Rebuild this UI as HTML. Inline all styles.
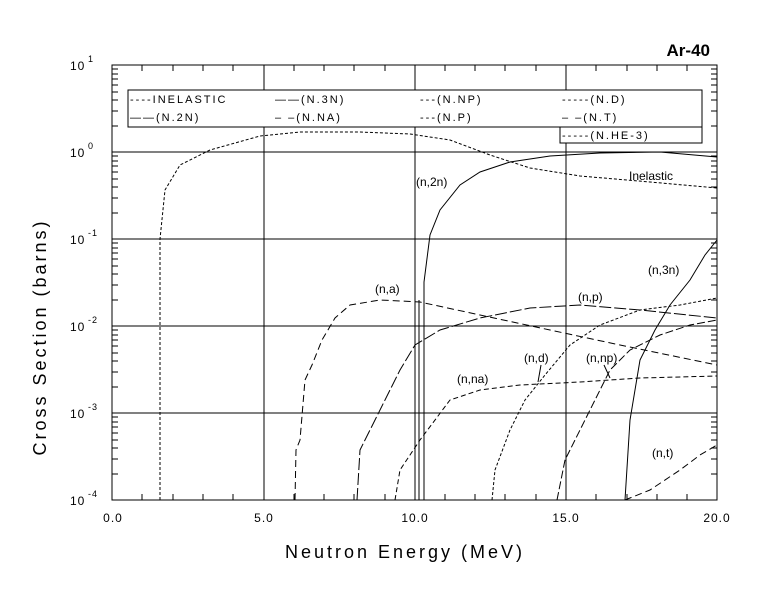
<!DOCTYPE html>
<html><head><style>
body{margin:0;background:#fff;}
svg{display:block;}
text{font-family:"Liberation Sans",sans-serif;fill:#000;}
</style></head><body>
<svg width="779" height="590" viewBox="0 0 779 590" xmlns="http://www.w3.org/2000/svg">
<rect width="779" height="590" fill="#fff"/>
<g stroke="#000" stroke-width="1" fill="none">
<rect x="112" y="65" width="605" height="435"/>
<line x1="264" y1="65" x2="264" y2="500"/>
<line x1="415" y1="65" x2="415" y2="500"/>
<line x1="566" y1="65" x2="566" y2="500"/>
<line x1="112" y1="152" x2="717" y2="152"/>
<line x1="112" y1="239" x2="717" y2="239"/>
<line x1="112" y1="326" x2="717" y2="326"/>
<line x1="112" y1="413" x2="717" y2="413"/>
</g>
<g stroke="#000" stroke-width="1">
<path d="M142,500v-6M173,500v-6M203,500v-6M233,500v-6M294,500v-6M324,500v-6M354,500v-6M385,500v-6M445,500v-6M475,500v-6M505,500v-6M536,500v-6M596,500v-6M627,500v-6M657,500v-6M687,500v-6
M142,65v6M173,65v6M203,65v6M233,65v6M294,65v6M324,65v6M354,65v6M385,65v6M445,65v6M475,65v6M505,65v6M536,65v6M596,65v6M627,65v6M657,65v6M687,65v6"/>
<path d="M112,474h6M112,459h6M112,448h6M112,440h6M112,433h6M112,427h6M112,422h6M112,417h6
M112,387h6M112,372h6M112,361h6M112,353h6M112,346h6M112,340h6M112,335h6M112,330h6
M112,300h6M112,285h6M112,274h6M112,266h6M112,259h6M112,253h6M112,248h6M112,243h6
M112,213h6M112,198h6M112,187h6M112,179h6M112,172h6M112,166h6M112,161h6M112,156h6
M112,126h6M112,111h6M112,100h6M112,92h6M112,85h6M112,79h6M112,74h6M112,69h6
M717,474h-6M717,459h-6M717,448h-6M717,440h-6M717,433h-6M717,427h-6M717,422h-6M717,417h-6
M717,387h-6M717,372h-6M717,361h-6M717,353h-6M717,346h-6M717,340h-6M717,335h-6M717,330h-6
M717,300h-6M717,285h-6M717,274h-6M717,266h-6M717,259h-6M717,253h-6M717,248h-6M717,243h-6
M717,213h-6M717,198h-6M717,187h-6M717,179h-6M717,172h-6M717,166h-6M717,161h-6M717,156h-6
M717,126h-6M717,111h-6M717,100h-6M717,92h-6M717,85h-6M717,79h-6M717,74h-6M717,69h-6"/>
</g>
<g fill="none" stroke="#000" stroke-width="1">
<polyline stroke-dasharray="3,2" points="160,500 160,239 165,190 180,165 210,150 260,136 300,132 360,132 410,134 450,140 490,155 530,168 580,176 650,182 717,188"/>
<polyline points="419,500 419,300"/>
<polyline points="424,500 424,282 430,235 440,210 460,185 480,172 510,162 550,156 600,153 660,152 717,157"/>
<polyline stroke-dasharray="7,4" points="295,500 296,450 300,440 305,380 312,365 322,340 335,318 350,305 380,300 420,302 480,315 550,330 620,345 717,365"/>
<polyline points="625,500 630,420 640,360 655,330 670,305 690,280 705,255 717,240"/>
<polyline stroke-dasharray="12,3" points="357,500 360,450 370,430 385,400 400,370 415,345 440,330 480,318 530,308 580,305 640,310 717,318"/>
<polyline stroke-dasharray="5,3" points="395,500 400,470 420,440 450,400 480,390 520,385 580,382 640,378 717,376"/>
<polyline stroke-dasharray="3,2" points="492,500 495,470 510,430 525,400 545,375 570,345 600,325 640,310 680,305 717,298"/>
<polyline stroke-dasharray="8,3" points="557,500 565,460 575,440 590,410 610,370 630,350 660,335 690,325 717,320"/>
<polyline stroke-dasharray="7,4" points="625,500 650,490 680,470 700,455 717,445"/>
<line x1="541" y1="365" x2="538" y2="382"/>
<line x1="604" y1="365" x2="610" y2="378"/>
</g>
<rect x="128" y="90" width="574" height="37" fill="#fff" stroke="#000"/>
<rect x="560" y="127" width="142" height="16" fill="#fff" stroke="#000"/>
<g font-size="11" letter-spacing="2">
<text x="130" y="103">----INELASTIC</text>
<text x="130" y="121">——(N.2N)</text>
<text x="275" y="103">——(N.3N)</text>
<text x="275" y="121">– –(N.NA)</text>
<text x="420" y="103">---(N.NP)</text>
<text x="420" y="121">---(N.P)</text>
<text x="562" y="103">-----(N.D)</text>
<text x="562" y="121">– –(N.T)</text>
<text x="562" y="139">-----(N.HE-3)</text>
</g>
<g font-size="12">
<text x="416" y="186">(n,2n)</text>
<text x="629" y="180">Inelastic</text>
<text x="375" y="293">(n,a)</text>
<text x="578" y="301">(n,p)</text>
<text x="648" y="274">(n,3n)</text>
<text x="524" y="362">(n,d)</text>
<text x="586" y="362">(n,np)</text>
<text x="457" y="383">(n,na)</text>
<text x="652" y="457">(n,t)</text>
</g>
<text x="710" y="56" font-size="17" font-weight="bold" text-anchor="end">Ar-40</text>
<g font-size="12" letter-spacing="1">
<text x="70" y="70">10</text><text x="88" y="62" font-size="9">1</text>
<text x="70" y="157">10</text><text x="88" y="149" font-size="9">0</text>
<text x="70" y="244">10</text><text x="88" y="236" font-size="9">-1</text>
<text x="70" y="331">10</text><text x="88" y="323" font-size="9">-2</text>
<text x="70" y="418">10</text><text x="88" y="410" font-size="9">-3</text>
<text x="70" y="505">10</text><text x="88" y="497" font-size="9">-4</text>
</g>
<g font-size="12" text-anchor="middle" letter-spacing="1">
<text x="113" y="522">0.0</text>
<text x="264" y="522">5.0</text>
<text x="415" y="522">10.0</text>
<text x="566" y="522">15.0</text>
<text x="717" y="522">20.0</text>
</g>
<text x="405" y="558" font-size="18" text-anchor="middle" letter-spacing="3">Neutron Energy (MeV)</text>
<text transform="translate(46,337) rotate(-90)" font-size="18" text-anchor="middle" letter-spacing="3">Cross Section (barns)</text>
</svg>
</body></html>
